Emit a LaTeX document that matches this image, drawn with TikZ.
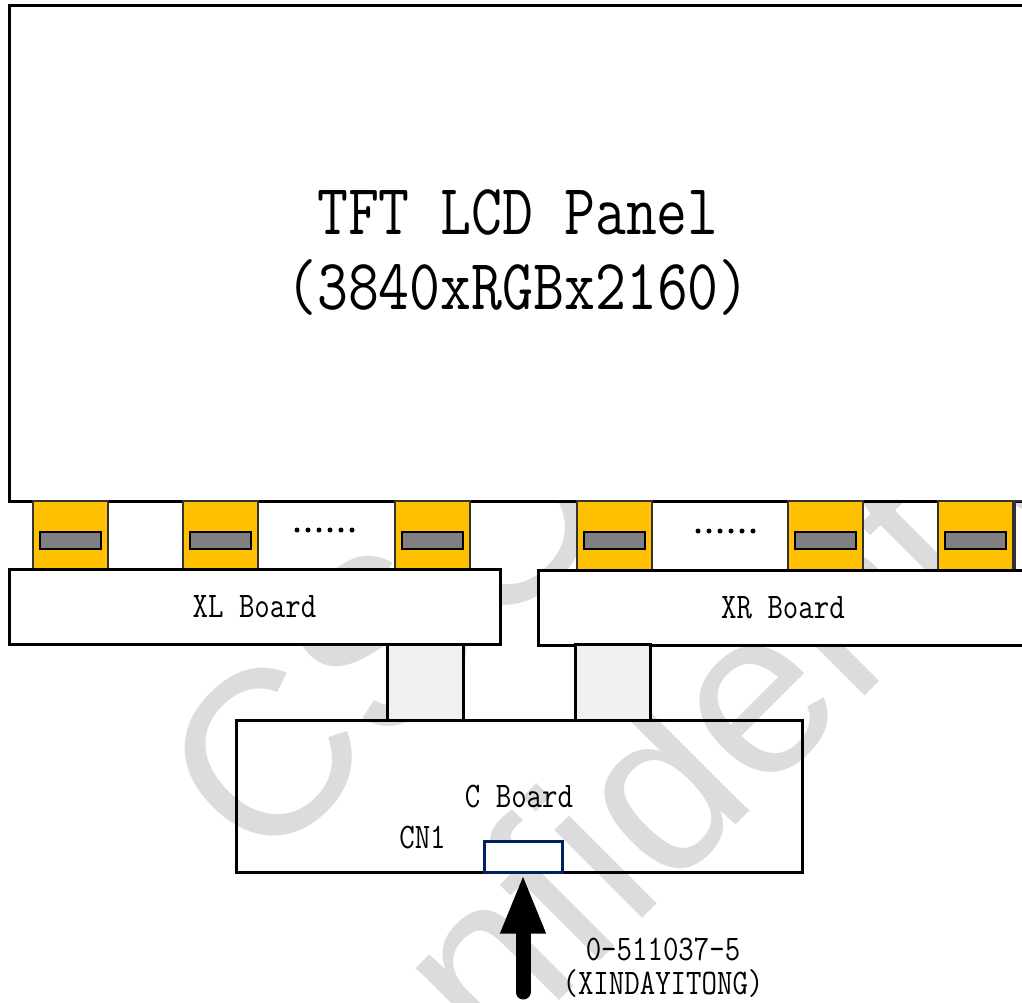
\documentclass[tikz,border=0pt]{standalone}
\usepackage{fontspec}
\newfontfamily\wmfont{Liberation Sans}
\usepackage{tikz}
\usetikzlibrary{arrows.meta}
\definecolor{cofyellow}{HTML}{FFC000}
\definecolor{chipgray}{HTML}{808080}
\definecolor{flexgray}{HTML}{F0F0F0}
\definecolor{cnblue}{HTML}{002060}
\definecolor{wmgray}{HTML}{DCDCDC}
\def\tall#1{\scalebox{1}[1.2]{#1}}

\begin{document}
\begin{tikzpicture}[
  x=1pt, y=-1pt,
  font=\ttfamily\fontsize{30}{36}\selectfont,
  board/.style={rectangle, draw=black, line width=3pt, fill=white, inner sep=0pt},
  cboard/.style={rectangle, draw=black, line width=3pt, inner sep=0pt},
  cof/.style={rectangle, draw=black!80, line width=1.2pt, fill=cofyellow,
    minimum width=75pt, minimum height=69pt, inner sep=0pt},
  chip/.style={rectangle, draw=black, line width=1.5pt, fill=chipgray,
    minimum width=61pt, minimum height=17pt, inner sep=0pt},
  flex/.style={rectangle, draw=black, line width=3pt, fill=flexgray,
    minimum width=76pt, minimum height=76pt, inner sep=0pt},
  conn/.style={rectangle, draw=cnblue, line width=3pt, fill=white, inner sep=0pt},
  wm/.style={text=wmgray, font=\wmfont\fontsize{235}{235}\selectfont, rotate=45},
  arr/.style={-{Triangle[length=60pt, width=41pt]}, line width=15pt, line cap=round}
]
\useasboundingbox (0,0) rectangle (1022,1002);
\clip (0,0) rectangle (1022,1002);
% watermark
\node[wm] (wmtop) at (436,585) {CSOT};
\node[wm] (wmbot) at (660,782) {Confidential};
% panel
\node[board, minimum width=1018pt, minimum height=496pt] (lcd) at (518,253) {};
\node[font=\ttfamily\fontsize{60}{75}\selectfont, align=center] (lcdtxt) at (518,253)
  {\tall{TFT LCD Panel}\\\tall{(3840xRGBx2160)}};
% COFs
\foreach \cx [count=\i] in {70.5,220.5,432.5,614.5,825.5,975.5}{
  \node[cof] (cof\i) at (\cx,535.5) {};
  \node[chip] (chip\i) at (\cx,540.5) {};
}
\draw[black!80, line width=1.2pt] (1015,501) rectangle (1100,570);
\foreach \d in {0,...,5}{
  \fill (297+11*\d,530) circle (2.5pt);
  \fill (698+11*\d,531) circle (2.5pt);
}
% boards
\node[board, minimum width=491pt, minimum height=74.5pt] (xl) at (254.5,607) {\tall{XL Board}};
\node[board, minimum width=490pt, minimum height=75pt] (xr) at (783,607.5) {\tall{XR Board}};
\node[flex] (fpcl) at (425,682) {};
\node[flex, minimum width=75.5pt] (fpcr) at (612.75,682) {};
\node[cboard, minimum width=566pt, minimum height=152pt] (cb) at (519,796) {\tall{C Board}};
\node[conn, minimum width=78pt, minimum height=31pt] (cn1) at (523,856.5) {};
\node[anchor=base] (cn1lbl) at (422.5,848) {\tall{CN1}};
% input
\coordinate (plug) at (523,992);
\draw[arr] (plug) -- (cn1.south);
\node[anchor=base] (pn) at (663,960) {\tall{0-511037-5}};
\node[anchor=base] (maker) at (663,994) {\tall{(XINDAYITONG)}};
\end{tikzpicture}
\end{document}
